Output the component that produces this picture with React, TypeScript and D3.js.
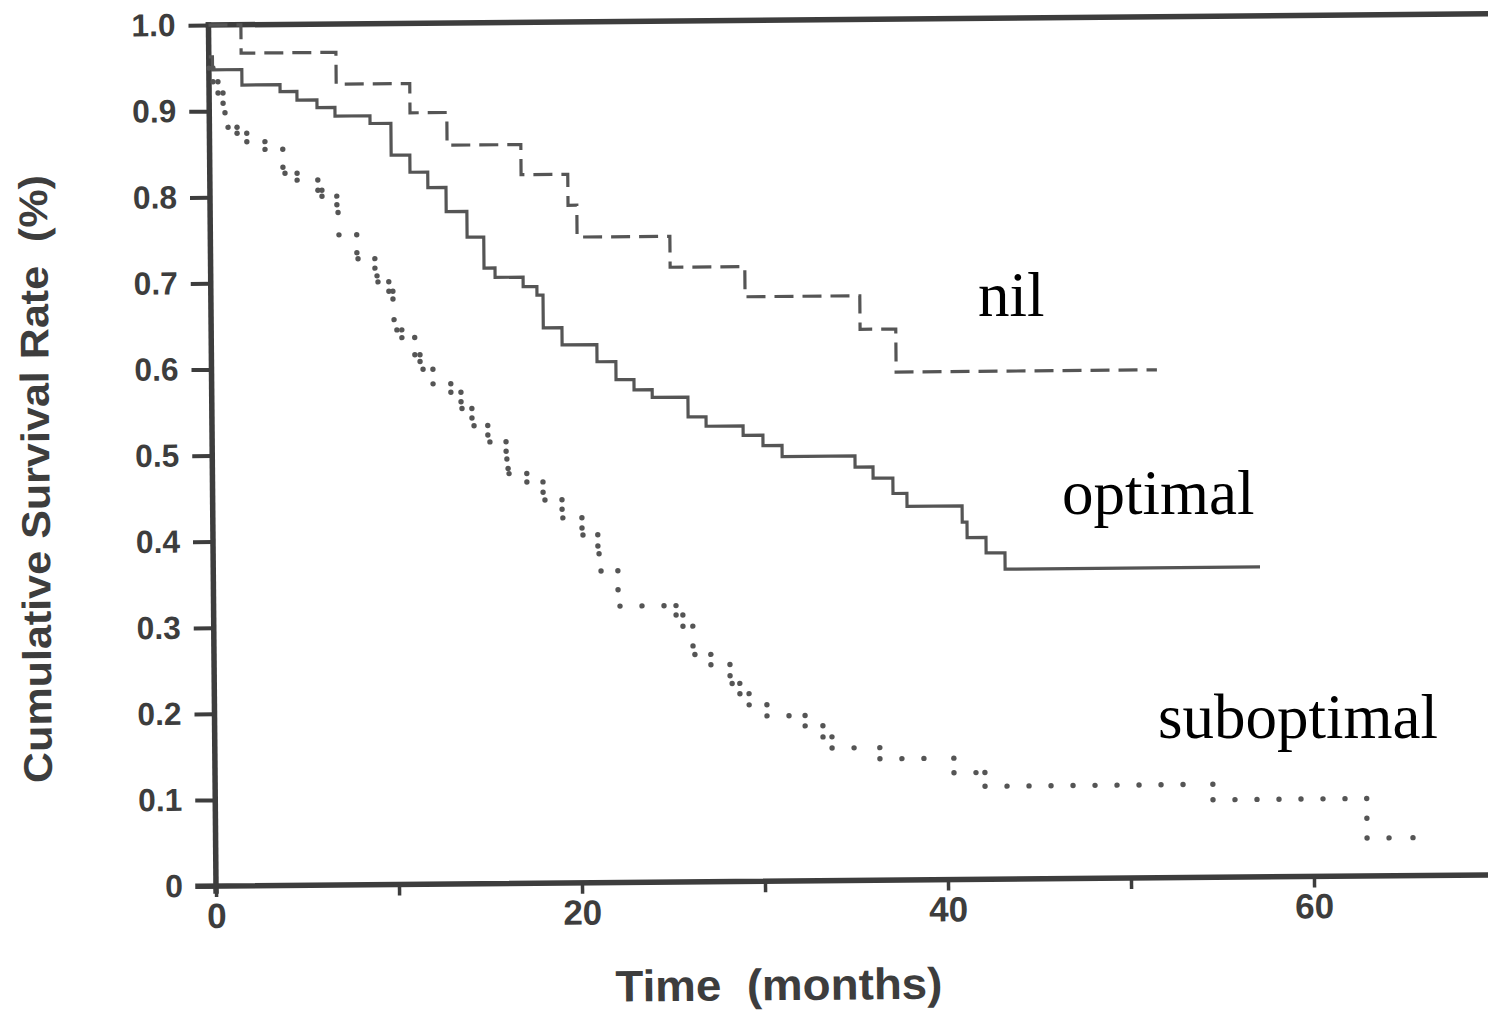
import React, { useEffect, useRef } from "react";
import * as d3 from "d3";

// Kaplan-Meier steps: time (months) where the curve drops, survival after the drop.
// The last entry repeats the final value and marks the end of follow-up.
const nilTime = [0, 1.77, 6.95, 10.97, 12.98, 17.01, 19.56, 20.04, 25.11, 29.19, 35.46, 37.41, 51.66];
const nilSurv = [1.0, 0.967, 0.93, 0.896, 0.858, 0.823, 0.787, 0.75, 0.714, 0.679, 0.64, 0.59, 0.59];

const optTime = [
  0, 0.2, 1.8, 3.88, 4.8, 5.89, 6.87, 8.78, 9.92, 10.94, 11.91, 12.9, 14.03, 14.94, 15.54, 17.07, 17.82, 18.15,
  19.17, 21.07, 22.1, 23.08, 24.07, 26.02, 27.0, 29.02, 30.1, 31.14, 35.12, 36.1, 37.18, 37.94, 40.95, 41.21,
  42.24, 43.27, 57.2,
];
const optSurv = [
  0.963, 0.948, 0.93, 0.922, 0.912, 0.903, 0.893, 0.884, 0.847, 0.827, 0.809, 0.781, 0.751, 0.715, 0.704, 0.693,
  0.683, 0.645, 0.625, 0.605, 0.584, 0.572, 0.563, 0.54, 0.529, 0.518, 0.506, 0.493, 0.48, 0.467, 0.449, 0.434,
  0.415, 0.397, 0.379, 0.36, 0.36,
];

const subTime = [
  0, 0.22, 0.49, 0.76, 0.86, 1.02, 1.51, 2.04, 3.03, 4.0, 4.11, 4.77, 5.9, 6.12, 6.93, 6.99, 7.03, 8.0, 8.06, 8.98,
  9.09, 9.14, 9.73, 9.95, 10.0, 10.15, 10.42, 11.12, 11.4, 11.56, 12.1, 13.07, 13.62, 13.67, 14.21, 14.32, 15.07,
  15.18, 16.06, 16.1, 16.16, 16.21, 17.18, 18.06, 18.16, 19.09, 19.13, 20.17, 20.22, 21.03, 21.09, 21.19, 22.11,
  22.21, 25.27, 25.64, 26.18, 26.28, 27.15, 28.19, 28.3, 28.72, 29.22, 30.19, 32.27, 33.24, 33.73, 36.34, 40.38,
  42.07, 54.52, 62.92, 65.43,
];
const subSurv = [
  0.95, 0.934, 0.921, 0.909, 0.898, 0.881, 0.874, 0.864, 0.855, 0.834, 0.827, 0.819, 0.807, 0.8, 0.79, 0.781, 0.755,
  0.734, 0.727, 0.716, 0.707, 0.7, 0.689, 0.68, 0.656, 0.644, 0.635, 0.615, 0.607, 0.598, 0.581, 0.571, 0.56, 0.552,
  0.541, 0.532, 0.521, 0.513, 0.502, 0.493, 0.482, 0.476, 0.466, 0.454, 0.445, 0.434, 0.424, 0.412, 0.404, 0.391,
  0.382, 0.362, 0.34, 0.321, 0.31, 0.297, 0.274, 0.264, 0.252, 0.239, 0.23, 0.218, 0.205, 0.192, 0.18, 0.167, 0.154,
  0.141, 0.124, 0.108, 0.09, 0.044, 0.044,
];

const xTicks = [0, 10, 20, 30, 40, 50, 60, 70];
const xLabeled = [0, 20, 40, 60];
const yTicks = [0, 0.1, 0.2, 0.3, 0.4, 0.5, 0.6, 0.7, 0.8, 0.9, 1.0];

const groupLabels = ["nil", "optimal", "suboptimal"];

const W = 1488;
const H = 1011;

export default function App() {
  const svgRef = useRef<SVGSVGElement>(null);

  useEffect(() => {
    const svg = d3.select(svgRef.current);
    svg.selectAll("*").remove();

    const x = d3.scaleLinear().domain([0, 60]).range([216, 1314]);
    const y = d3.scaleLinear().domain([0, 1]).range([886, 25]);
    const ink = "#3d3d3d";
    const curveInk = "#555";
    const sans = "'Liberation Sans', Arial, Helvetica, sans-serif";

    svg.append("rect").attr("width", W).attr("height", H).attr("fill", "#fff");

    // the scan is tilted a little
    const g = svg.append("g").attr("transform", `rotate(-0.5,${x(0)},${y(0)})`);

    // y axis ticks + labels
    const yAxis = g
      .append("g")
      .attr("transform", `translate(${x(0)},0)`)
      .call(
        d3
          .axisLeft(y)
          .tickValues(yTicks)
          .tickSize(20)
          .tickPadding(13)
          .tickFormat((d) => (+d === 0 ? "0" : d3.format(".1f")(+d)))
      );
    yAxis.select(".domain").remove();
    yAxis.selectAll("line").attr("stroke", ink).attr("stroke-width", 4);
    yAxis
      .selectAll("text")
      .attr("fill", ink)
      .attr("textLength", (d) => (+d === 0 ? null : 44))
      .attr("lengthAdjust", "spacingAndGlyphs")
      .style("font-family", sans)
      .style("font-weight", "bold")
      .style("font-size", "32px");

    // x axis ticks + labels
    const xAxis = g
      .append("g")
      .attr("transform", `translate(0,${y(0)})`)
      .call(
        d3
          .axisBottom(x)
          .tickValues(xTicks)
          .tickSize(11)
          .tickPadding(6)
          .tickFormat((d) => (xLabeled.includes(+d) ? String(d) : ""))
      );
    xAxis.select(".domain").remove();
    xAxis.selectAll("line").attr("stroke", ink).attr("stroke-width", 3.5);
    xAxis
      .selectAll("text")
      .attr("fill", ink)
      .style("font-family", sans)
      .style("font-weight", "bold")
      .style("font-size", "35px");

    // frame lines
    const frame = [
      [x(0), y(0) + 5, x(0), y(1)],
      [x(0) - 18, y(0), W + 30, y(0)],
      [x(0), y(1), W + 30, y(1)],
    ];
    g.selectAll(".frame")
      .data(frame)
      .enter()
      .append("line")
      .attr("x1", (d) => d[0])
      .attr("y1", (d) => d[1])
      .attr("x2", (d) => d[2])
      .attr("y2", (d) => d[3])
      .attr("stroke", ink)
      .attr("stroke-width", 5.5)
      .attr("stroke-linecap", "square");

    const step = d3
      .line<[number, number]>()
      .x((d) => x(d[0]))
      .y((d) => y(d[1]))
      .curve(d3.curveStepAfter);

    const zip = (t: number[], s: number[]) => t.map((v, i) => [v, s[i]] as [number, number]);

    // nil - dashed
    g.append("path")
      .attr("d", step(zip(nilTime, nilSurv)))
      .attr("fill", "none")
      .attr("stroke", curveInk)
      .attr("stroke-width", 3.2)
      .attr("stroke-dasharray", "19 9");

    // optimal - solid
    g.append("path")
      .attr("d", step(zip(optTime, optSurv)))
      .attr("fill", "none")
      .attr("stroke", curveInk)
      .attr("stroke-width", 3.2);

    // suboptimal - dotted, dots at corners and spaced along the flat runs
    const dots: [number, number][] = [];
    const push = (px: number, py: number) => {
      const last = dots[dots.length - 1];
      if (last && Math.hypot(last[0] - px, last[1] - py) < 4) return;
      dots.push([px, py]);
    };
    for (let i = 0; i < subTime.length - 1; i++) {
      const xa = x(subTime[i]);
      const xb = x(subTime[i + 1]);
      const yy = y(subSurv[i]);
      push(xa, yy);
      for (let px = xa + 22; px < xb - 8; px += 22) push(px, yy);
      push(xb, yy);
      const y2 = y(subSurv[i + 1]);
      const len = y2 - yy;
      if (len > 24) {
        const n = Math.round(len / 18);
        for (let k = 1; k < n; k++) push(xb, yy + (len * k) / n);
      }
    }
    g.selectAll(".dot")
      .data(dots)
      .enter()
      .append("circle")
      .attr("cx", (d) => d[0])
      .attr("cy", (d) => d[1])
      .attr("r", 2.7)
      .attr("fill", curveInk);

    // axis titles
    g.append("text")
      .attr("transform", `translate(53,${(y(0) + y(1)) / 2 + 22}) rotate(-90)`)
      .attr("text-anchor", "middle")
      .attr("fill", ink)
      .attr("textLength", 608)
      .attr("lengthAdjust", "spacingAndGlyphs")
      .style("font-family", sans)
      .style("font-weight", "bold")
      .style("font-size", "40px")
      .style("white-space", "pre")
      .text("Cumulative Survival Rate  (%)");

    g.append("text")
      .attr("x", 778)
      .attr("y", 1005)
      .attr("text-anchor", "middle")
      .attr("fill", ink)
      .attr("textLength", 327)
      .attr("lengthAdjust", "spacingAndGlyphs")
      .style("font-family", sans)
      .style("font-weight", "bold")
      .style("font-size", "44px")
      .style("white-space", "pre")
      .text("Time  (months)");

    // group labels typed onto the figure
    const labelPos = [
      [978, 316],
      [1062, 514],
      [1158, 738],
    ];
    svg
      .selectAll(".grp")
      .data(groupLabels)
      .enter()
      .append("text")
      .attr("x", (_, i) => labelPos[i][0])
      .attr("y", (_, i) => labelPos[i][1])
      .attr("fill", "#000")
      .style("font-family", "'Liberation Serif', 'Times New Roman', serif")
      .style("font-size", "63px")
      .text((d) => d);
  }, []);

  return (
    <svg
      ref={svgRef}
      width={W}
      height={H}
      style={{ position: "absolute", left: 0, top: 0, display: "block" }}
    ></svg>
  );
}
